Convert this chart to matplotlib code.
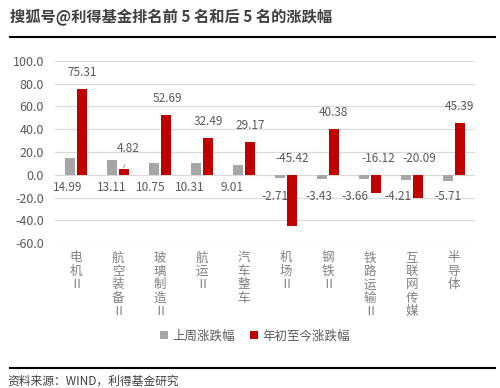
import numpy as np
import matplotlib.pyplot as plt

plt.rcParams['font.family'] = ['Noto Sans CJK SC', 'DejaVu Sans']

categories = ["电机Ⅱ", "航空装备Ⅱ", "玻璃制造Ⅱ", "航运Ⅱ", "汽车整车",
              "机场Ⅱ", "钢铁Ⅱ", "铁路运输Ⅱ", "互联网传媒", "半导体"]
last_week = [14.99, 13.11, 10.75, 10.31, 9.01, -2.71, -3.43, -3.66, -4.21, -5.71]
ytd = [75.31, 4.82, 52.69, 32.49, 29.17, -45.42, 40.38, -16.12, -20.09, 45.39]
yticks = [100, 80, 60, 40, 20, 0, -20, -40, -60]

GRAY = "#A6A6A6"
RED = "#C00000"
TXT = "#595959"

# horizontal nudges of the data labels (in category units), as placed in the source
gray_dx = [-0.21, -0.14, -0.21, -0.29, -0.29, -0.26, -0.22, -0.36, -0.34, -0.14]
red_dx = [0.14, 0.24, 0.17, 0.14, 0.14, 0.14, 0.14, 0.21, 0.17, 0.14]

fig = plt.figure(figsize=(5, 3.88), dpi=100)
ax = fig.add_axes([0.11, 0.3737, 0.84, 0.4691])

x = np.arange(len(categories))
w = 0.24
ax.bar(x - 0.135, last_week, width=w, color=GRAY, zorder=3, label="上周涨跌幅")
ax.bar(x + 0.135, ytd, width=w, color=RED, zorder=3, label="年初至今涨跌幅")

lab = dict(ha="center", va="center", fontsize=8.5, color=TXT, zorder=4)
for i, v in enumerate(last_week):
    ly = -11.5 if v >= 0 else -19
    ax.text(x[i] + gray_dx[i], ly, f"{v:.2f}", **lab)
for i, v in enumerate(ytd):
    if i == 1:
        ax.annotate(f"{v:.2f}", xy=(x[i] + 0.14, v + 1.5), xytext=(x[i] + red_dx[i], v + 18),
                    arrowprops=dict(arrowstyle="-", color="#808080", lw=0.6,
                                    shrinkA=5, shrinkB=0), **lab)
    elif v >= 0:
        ax.text(x[i] + red_dx[i], v + 14.5, f"{v:.2f}", **lab)
    else:
        ax.text(x[i] + red_dx[i], 14.5, f"{v:.2f}", **lab)

ax.set_xlim(-0.5, len(categories) - 0.5)
ax.set_ylim(-60, 100)
ax.set_yticks(yticks)
ax.set_yticklabels([f"{t:.1f}" for t in yticks], fontsize=9, color=TXT)
ax.tick_params(axis="y", length=0, pad=8)
ax.set_xticks(x)
ax.set_xticklabels(["\n".join(c) for c in categories], fontsize=9, color="#808080",
                   va="top", linespacing=1.05)
ax.tick_params(axis="x", length=0, pad=6)
ax.grid(axis="y", color="#D9D9D9", lw=0.8, zorder=0)
for s in ax.spines.values():
    s.set_visible(False)

fig.legend(loc="center", bbox_to_anchor=(0.51, 0.134), ncol=2, frameon=False,
           fontsize=9, handlelength=0.6, handleheight=0.6, handletextpad=0.4,
           columnspacing=1.2, labelcolor=TXT)

fig.text(0.02, 0.955, "搜狐号@利得基金排名前 5 名和后 5 名的涨跌幅", fontsize=11,
         fontweight="bold", color="#404040", va="center")
fig.add_artist(plt.Line2D([0.02, 0.99], [0.905, 0.905], color="black", lw=1.5))
fig.add_artist(plt.Line2D([0.02, 0.99], [0.052, 0.052], color="black", lw=1.5))
fig.text(0.015, 0.018, "资料来源：WIND，利得基金研究", fontsize=8.5, style="italic",
         color="#404040", va="center")

fig.savefig("out.png", dpi=100)
